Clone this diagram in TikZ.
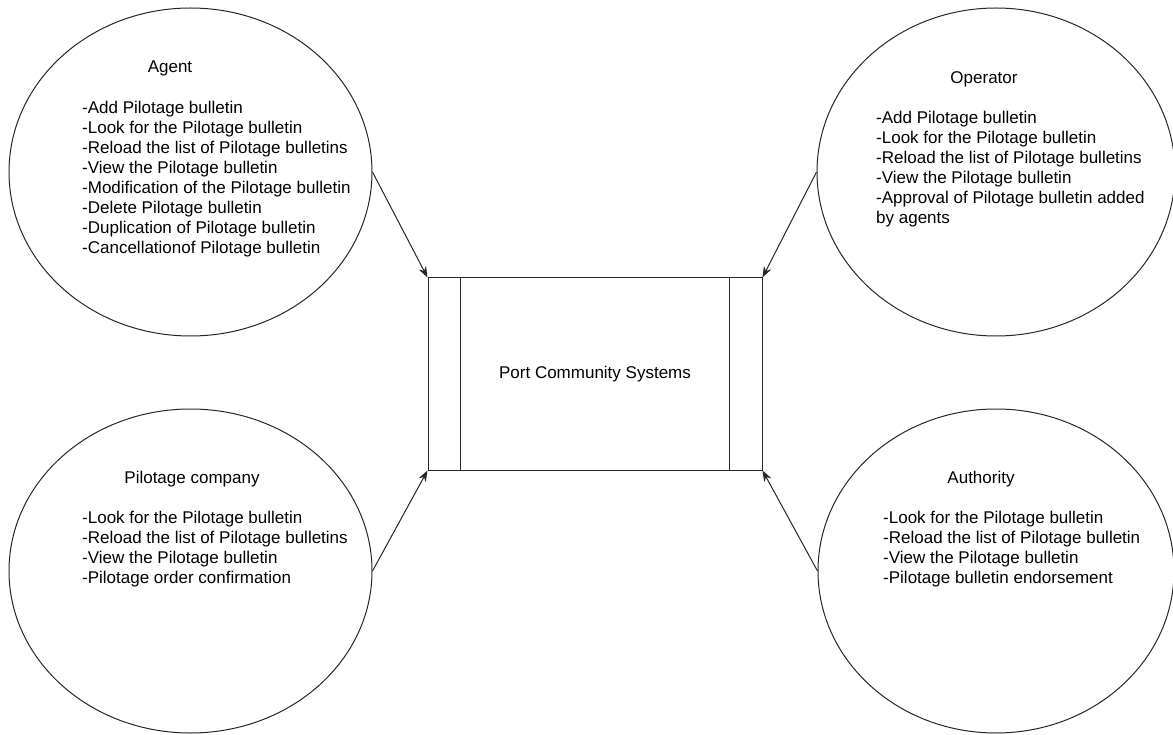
\documentclass[tikz,border=0pt]{standalone}
\usepackage{fontspec}
\setmainfont{Liberation Sans}
\usetikzlibrary{arrows.meta,shapes.geometric}
\begin{document}
\begin{tikzpicture}[x=1pt,y=-1pt,
  actor/.style={draw=black!85, ellipse, line width=1pt, inner sep=0pt},
  title/.style={anchor=base, font=\fontsize{17}{20}\selectfont, inner sep=0pt},
  items/.style={anchor=north west, align=left, font=\fontsize{17}{20}\selectfont, inner sep=0pt},
  sysbox/.style={draw=black!85, line width=1pt, font=\fontsize{17}{20}\selectfont},
  link/.style={draw=black!85, line width=1pt, -{Stealth[length=11pt,width=8pt]}}]
\useasboundingbox (0,0) rectangle (1173,735);

% actors
\node[actor, minimum width=363pt, minimum height=328pt] (agent) at (190.5,172) {};
\node[actor, minimum width=358pt, minimum height=328pt] (oper) at (996,172) {};
\node[actor, minimum width=363pt, minimum height=324pt] (pilot) at (190.5,571) {};
\node[actor, minimum width=356pt, minimum height=324pt] (auth) at (996,571) {};

% system
\node[sysbox, minimum width=334pt, minimum height=192pt] (pcs) at (595,374) {Port Community Systems};
\draw[draw=black!85, line width=1pt] ([xshift=33pt]pcs.north west) -- ([xshift=33pt]pcs.south west);
\draw[draw=black!85, line width=1pt] ([xshift=-33pt]pcs.north east) -- ([xshift=-33pt]pcs.south east);

% texts
\node[title] (agentT) at (170,73) {Agent};
\node[items] (agentL) at (82,100.8) {-Add Pilotage bulletin\\-Look for the Pilotage bulletin\\-Reload the list of Pilotage bulletins\\-View the Pilotage bulletin\\-Modification of the Pilotage bulletin\\-Delete Pilotage bulletin\\-Duplication of Pilotage bulletin\\-Cancellationof Pilotage bulletin};

\node[title] (operT) at (984,84) {Operator};
\node[items] (operL) at (876,110.8) {-Add Pilotage bulletin\\-Look for the Pilotage bulletin\\-Reload the list of Pilotage bulletins\\-View the Pilotage bulletin\\-Approval of Pilotage bulletin added\\by agents};

\node[title] (pilotT) at (192,483) {Pilotage company};
\node[items] (pilotL) at (82,510.8) {-Look for the Pilotage bulletin\\-Reload the list of Pilotage bulletins\\-View the Pilotage bulletin\\-Pilotage order confirmation};

\node[title] (authT) at (981,483) {Authority};
\node[items] (authL) at (883,510.8) {-Look for the Pilotage bulletin\\-Reload the list of Pilotage bulletin\\-View the Pilotage bulletin\\-Pilotage bulletin endorsement};

% connectors
\draw[link] (agent.east) -- (pcs.north west);
\draw[link] (oper.west) -- (pcs.north east);
\draw[link] (pilot.east) -- (pcs.south west);
\draw[link] (auth.west) -- (pcs.south east);
\end{tikzpicture}
\end{document}
